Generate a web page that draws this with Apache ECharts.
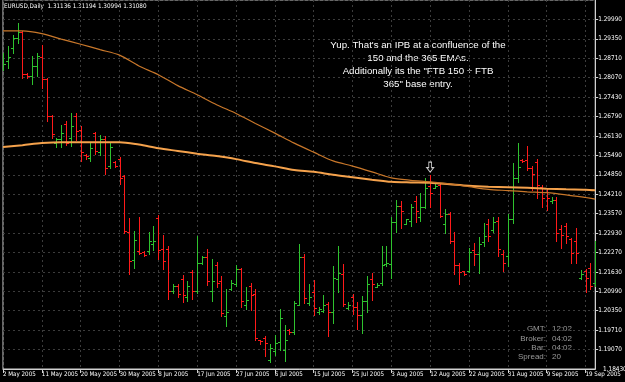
<!doctype html>
<html>
<head>
<meta charset="UTF-8">
<title>EURUSD,Daily</title>
<style>
  html, body { margin: 0; padding: 0; background: #000; }
  #main { width: 625px; height: 382px; }
</style>
<script src="https://cdn.jsdelivr.net/npm/echarts@6.0.0/dist/echarts.min.js"></script>
</head>
<body>
<div id="main"></div>
<script>
// date labels, one every 8 bars (Sunday bars included)
var dateLabels = ['2 May 2005', '11 May 2005', '20 May 2005', '30 May 2005', '8 Jun 2005', '17 Jun 2005',
  '27 Jun 2005', '6 Jul 2005', '15 Jul 2005', '25 Jul 2005', '3 Aug 2005', '12 Aug 2005', '22 Aug 2005',
  '31 Aug 2005', '9 Sep 2005', '19 Sep 2005'];

// daily OHLC
var opens = [
  1.2849, 1.2862, 1.2904, 1.2939, 1.2958, 1.2819, 1.2813, 1.2844, 1.2875, 1.2803,
  1.2680, 1.2590, 1.2603, 1.2652, 1.2606, 1.2681, 1.2632, 1.2550, 1.2541, 1.2622,
  1.2560, 1.2603, 1.2514, 1.2528, 1.2537, 1.2482, 1.2295, 1.2203, 1.2233, 1.2230,
  1.2233, 1.2256, 1.2341, 1.2239, 1.2239, 1.2102, 1.2118, 1.2141, 1.2082, 1.2164,
  1.2102, 1.2193, 1.2213, 1.2102, 1.2187, 1.2135, 1.2017, 1.2108, 1.2125, 1.2174,
  1.2053, 1.2118, 1.2092, 1.1938, 1.1945, 1.1873, 1.1902, 1.1931, 1.1905, 1.1972,
  1.1964, 1.2056, 1.2215, 1.2062, 1.2098, 1.2030, 1.2036, 1.2059, 1.2030, 1.2141,
  1.2157, 1.2046, 1.2082, 1.2047, 1.2020, 1.2069, 1.2141, 1.2115, 1.2128, 1.2189,
  1.2190, 1.2328, 1.2383, 1.2324, 1.2331, 1.2397, 1.2344, 1.2380, 1.2449, 1.2442,
  1.2452, 1.2324, 1.2354, 1.2266, 1.2187, 1.2166, 1.2167, 1.2236, 1.2223, 1.2262,
  1.2324, 1.2302, 1.2334, 1.2222, 1.2216, 1.2339, 1.2473, 1.2534, 1.2533, 1.2508,
  1.2528, 1.2446, 1.2429, 1.2397, 1.2403, 1.2305, 1.2315, 1.2272, 1.2266, 1.2144,
  1.2167, 1.2177, 1.2128
];
var closes = [
  1.2853, 1.2875, 1.2939, 1.2956, 1.2819, 1.2813, 1.2844, 1.2877, 1.2803, 1.2680,
  1.2620, 1.2603, 1.2622, 1.2590, 1.2645, 1.2629, 1.2560, 1.2547, 1.2573, 1.2564,
  1.2603, 1.2506, 1.2577, 1.2514, 1.2475, 1.2298, 1.2200, 1.2271, 1.2226, 1.2220,
  1.2266, 1.2266, 1.2238, 1.2200, 1.2102, 1.2116, 1.2092, 1.2089, 1.2118, 1.2102,
  1.2194, 1.2213, 1.2135, 1.2135, 1.2128, 1.2027, 1.2030, 1.2126, 1.2174, 1.2069,
  1.2071, 1.2089, 1.1944, 1.1935, 1.1928, 1.1911, 1.1928, 1.2010, 1.1938, 1.1964,
  1.2062, 1.2215, 1.2079, 1.2082, 1.2046, 1.2043, 1.2053, 1.2030, 1.2144, 1.2161,
  1.2059, 1.2056, 1.2047, 1.2020, 1.2069, 1.2125, 1.2125, 1.2121, 1.2187, 1.2193,
  1.2328, 1.2383, 1.2364, 1.2338, 1.2380, 1.2364, 1.2380, 1.2440, 1.2426, 1.2449,
  1.2350, 1.2356, 1.2266, 1.2187, 1.2164, 1.2157, 1.2230, 1.2223, 1.2255, 1.2282,
  1.2282, 1.2328, 1.2239, 1.2193, 1.2339, 1.2473, 1.2511, 1.2532, 1.2506, 1.2489,
  1.2451, 1.2407, 1.2407, 1.2403, 1.2293, 1.2287, 1.2282, 1.2227, 1.2227, 1.2156,
  1.2145, 1.2118, 1.2233
];
var lows = [
  1.2833, 1.2839, 1.2888, 1.2921, 1.2806, 1.2806, 1.2784, 1.2811, 1.2773, 1.2664,
  1.2606, 1.2577, 1.2577, 1.2584, 1.2582, 1.2599, 1.2531, 1.2538, 1.2530, 1.2553,
  1.2550, 1.2489, 1.2506, 1.2511, 1.2456, 1.2293, 1.2156, 1.2178, 1.2222, 1.2216,
  1.2222, 1.2238, 1.2206, 1.2173, 1.2076, 1.2095, 1.2082, 1.2066, 1.2069, 1.2076,
  1.2095, 1.2191, 1.2121, 1.2067, 1.2113, 1.2017, 1.1984, 1.2104, 1.2118, 1.2047,
  1.2042, 1.2039, 1.1940, 1.1927, 1.1886, 1.1865, 1.1889, 1.1905, 1.1870, 1.1960,
  1.1958, 1.2053, 1.2062, 1.2053, 1.2020, 1.2025, 1.2030, 1.1951, 1.1995, 1.2096,
  1.2052, 1.2042, 1.2025, 1.1976, 1.1963, 1.2033, 1.2072, 1.2113, 1.2121, 1.2184,
  1.2145, 1.2295, 1.2309, 1.2323, 1.2315, 1.2328, 1.2331, 1.2375, 1.2380, 1.2442,
  1.2345, 1.2293, 1.2259, 1.2156, 1.2124, 1.2153, 1.2164, 1.2186, 1.2162, 1.2251,
  1.2266, 1.2295, 1.2216, 1.2167, 1.2184, 1.2325, 1.2462, 1.2528, 1.2500, 1.2435,
  1.2407, 1.2380, 1.2369, 1.2391, 1.2266, 1.2244, 1.2260, 1.2192, 1.2194, 1.2142,
  1.2098, 1.2107, 1.2118
];
var highs = [
  1.2888, 1.2912, 1.2946, 1.2988, 1.2961, 1.2822, 1.2877, 1.2888, 1.2913, 1.2806,
  1.2684, 1.2606, 1.2650, 1.2664, 1.2689, 1.2689, 1.2648, 1.2555, 1.2595, 1.2626,
  1.2618, 1.2612, 1.2590, 1.2530, 1.2544, 1.2484, 1.2342, 1.2298, 1.2347, 1.2233,
  1.2296, 1.2315, 1.2353, 1.2287, 1.2249, 1.2125, 1.2125, 1.2154, 1.2135, 1.2171,
  1.2284, 1.2216, 1.2240, 1.2206, 1.2198, 1.2149, 1.2107, 1.2138, 1.2187, 1.2178,
  1.2113, 1.2126, 1.2107, 1.1940, 1.1952, 1.1927, 1.1954, 1.2042, 1.1990, 1.1976,
  1.2069, 1.2255, 1.2224, 1.2125, 1.2137, 1.2047, 1.2089, 1.2063, 1.2184, 1.2251,
  1.2189, 1.2063, 1.2090, 1.2063, 1.2085, 1.2151, 1.2162, 1.2126, 1.2249, 1.2251,
  1.2344, 1.2402, 1.2397, 1.2340, 1.2389, 1.2416, 1.2426, 1.2476, 1.2484, 1.2454,
  1.2459, 1.2373, 1.2361, 1.2295, 1.2194, 1.2167, 1.2244, 1.2258, 1.2280, 1.2325,
  1.2340, 1.2344, 1.2344, 1.2235, 1.2356, 1.2524, 1.2590, 1.2539, 1.2582, 1.2513,
  1.2538, 1.2451, 1.2440, 1.2413, 1.2413, 1.2318, 1.2325, 1.2276, 1.2309, 1.2171,
  1.2175, 1.2192, 1.2266
];

// EMA values read every 4 bars
var emaBars = [0, 4, 8, 12, 16, 20, 24, 28, 32, 36, 40, 44, 48, 52, 56, 60,
  64, 68, 72, 76, 80, 84, 88, 92, 96, 100, 104, 108, 112, 116, 120, 122];
var ema150 = [1.2961, 1.2961, 1.2952, 1.2934, 1.2917, 1.2899, 1.2881, 1.2845, 1.2816, 1.2780,
  1.2750, 1.2717, 1.2688, 1.2655, 1.2623, 1.2590, 1.2560, 1.2531, 1.2514, 1.2495,
  1.2475, 1.2467, 1.2462, 1.2455, 1.2446, 1.2437, 1.2433, 1.2429, 1.2426, 1.2419,
  1.2410, 1.2405];
var ema365 = [1.2577, 1.2583, 1.2590, 1.2593, 1.2593, 1.2593, 1.2593, 1.2585, 1.2573, 1.2564,
  1.2555, 1.2547, 1.2537, 1.2524, 1.2513, 1.2501, 1.2495, 1.2485, 1.2477, 1.2469,
  1.2462, 1.2460, 1.2459, 1.2454, 1.2449, 1.2446, 1.2444, 1.2442, 1.2439, 1.2437,
  1.2436, 1.2434];

// right axis labels, bottom to top
var priceLabels = ['1.18430', '1.19070', '1.19710', '1.20350', '1.20990', '1.21630', '1.22270',
  '1.22930', '1.23570', '1.24210', '1.24850', '1.25490', '1.26130', '1.26790', '1.27430',
  '1.28070', '1.28710', '1.29350', '1.29990'];
var priceMin = 1.18430;
var priceStep = 0.006422;

var header = 'EURUSD,Daily  1.31136 1.31194 1.30994 1.31080';
var noteLines = ['Yup. That\'s an IPB at a confluence of the', '150 and the 365 EMAs.',
  'Additionally its the "FTB 150 + FTB', '365" base entry.'];
var infoNames = ['GMT:', 'Broker:', 'Bar:', 'Spread:'];
var infoValues = ['12:02', '04:02', '04:02', '20'];
var arrowBar = 88;

var upColor = '#2ec22e';
var downColor = '#ff1a1a';
var gridColor = '#3c3c3c';
var frameColor = '#d0d0d0';
var font = '"Liberation Sans", Arial, sans-serif';
var narrow = '"Liberation Sans Narrow", "DejaVu Sans Condensed", "Liberation Sans", sans-serif';

var cats = [];
var bars = [];
for (var i = 0; i < opens.length; i++) {
  cats.push(String(i));
  bars.push([i, opens[i], closes[i], lows[i], highs[i]]);
}
var ema150Data = emaBars.map(function (b, k) { return [b, ema150[k]]; });
var ema365Data = emaBars.map(function (b, k) { return [b, ema365[k]]; });

// OHLC bar: high-low line, open tick left, close tick right
function drawBar(params, api) {
  var idx = api.value(0);
  var o = api.coord([idx, api.value(1)]);
  var c = api.coord([idx, api.value(2)]);
  var l = api.coord([idx, api.value(3)]);
  var h = api.coord([idx, api.value(4)]);
  var x = Math.round(o[0]) + 0.5;
  var col = api.value(2) >= api.value(1) ? upColor : downColor;
  var st = { stroke: col, lineWidth: 1 };
  var yo = Math.round(o[1]) + 0.5;
  var yc = Math.round(c[1]) + 0.5;
  return {
    type: 'group',
    children: [
      { type: 'line', shape: { x1: x, y1: Math.round(h[1]), x2: x, y2: Math.round(l[1]) + 1 }, style: st },
      { type: 'line', shape: { x1: x - 2.5, y1: yo, x2: x, y2: yo }, style: st },
      { type: 'line', shape: { x1: x, y1: yc, x2: x + 2.5, y2: yc }, style: st }
    ]
  };
}

var graphics = [{
  type: 'text', silent: true,
  style: { x: 4, y: 6, text: header, fill: '#ffffff', font: '6.3px ' + narrow, verticalAlign: 'middle' }
}, {
  type: 'text', silent: true,
  style: { x: 418, y: 39, text: noteLines.join('\n'), fill: '#ffffff', font: '9.7px ' + font,
    align: 'center', lineHeight: 13 }
}, {
  // bottom price label, drawn here so the date labels cannot hide it
  type: 'text', silent: true,
  style: { x: 603, y: 369, text: priceLabels[0], fill: '#ffffff', font: '6.4px ' + narrow,
    verticalAlign: 'middle' }
}];
for (var k = 0; k < infoNames.length; k++) {
  graphics.push({ type: 'text', silent: true,
    style: { x: 546, y: 329 + k * 9.3, text: infoNames[k], fill: '#9a9a9a', font: '8px ' + font,
      align: 'right', verticalAlign: 'middle' } });
  graphics.push({ type: 'text', silent: true,
    style: { x: 552, y: 329 + k * 9.3, text: infoValues[k], fill: '#9a9a9a', font: '8px ' + font,
      align: 'left', verticalAlign: 'middle' } });
}

var myChart = echarts.init(document.getElementById('main'));
var option = {
  backgroundColor: '#000000',
  animation: false,
  grid: {
    left: 2, right: 25, top: -3.6, bottom: 13,
    show: true, borderColor: frameColor, borderWidth: 1, backgroundColor: '#000000'
  },
  xAxis: {
    type: 'category',
    data: cats,
    boundaryGap: false,
    axisLine: { show: true, lineStyle: { color: frameColor } },
    axisTick: { show: true, interval: 7, length: 4, lineStyle: { color: frameColor } },
    axisLabel: {
      interval: 7, align: 'left', margin: 2, color: '#ffffff', fontSize: 6.2, fontFamily: narrow,
      formatter: function (v, idx) { return dateLabels[idx / 8] || ''; }
    },
    splitLine: { show: true, interval: 7, lineStyle: { color: gridColor, type: [2, 3] } }
  },
  yAxis: {
    type: 'value',
    position: 'right',
    min: priceMin,
    max: priceMin + 19 * priceStep,
    interval: priceStep,
    axisLine: { show: true, lineStyle: { color: frameColor } },
    axisTick: { show: true, length: 3, lineStyle: { color: frameColor } },
    axisLabel: {
      margin: 3, color: '#ffffff', fontSize: 6.4, fontFamily: narrow,
      showMinLabel: false, showMaxLabel: false,
      formatter: function (v) { return priceLabels[Math.round((v - priceMin) / priceStep)] || ''; }
    },
    splitLine: { show: true, lineStyle: { color: gridColor, type: [2, 3] } }
  },
  series: [{
    name: 'EURUSD',
    type: 'custom',
    renderItem: drawBar,
    data: bars,
    encode: { x: 0, y: [1, 2, 3, 4] },
    clip: true,
    silent: true
  }, {
    name: 'EMA 365',
    type: 'line',
    data: ema365Data,
    showSymbol: false,
    smooth: 0.3,
    silent: true,
    z: 3,
    lineStyle: { color: '#f5a24c', width: 2 }
  }, {
    name: 'EMA 150',
    type: 'line',
    data: ema150Data,
    showSymbol: false,
    smooth: 0.3,
    silent: true,
    z: 3,
    lineStyle: { color: '#c8772a', width: 1.2 }
  }, {
    name: 'arrow',
    type: 'scatter',
    data: [[arrowBar, highs[arrowBar]]],
    symbol: 'path://M3,0 L7,0 L7,6 L10,6 L5,11 L0,6 L3,6 Z',
    symbolSize: [7, 10],
    symbolOffset: [0, -8],
    silent: true,
    z: 4,
    itemStyle: { color: '#000000', borderColor: '#ffffff', borderWidth: 1 }
  }],
  graphic: graphics
};
myChart.setOption(option);
</script>
</body>
</html>
